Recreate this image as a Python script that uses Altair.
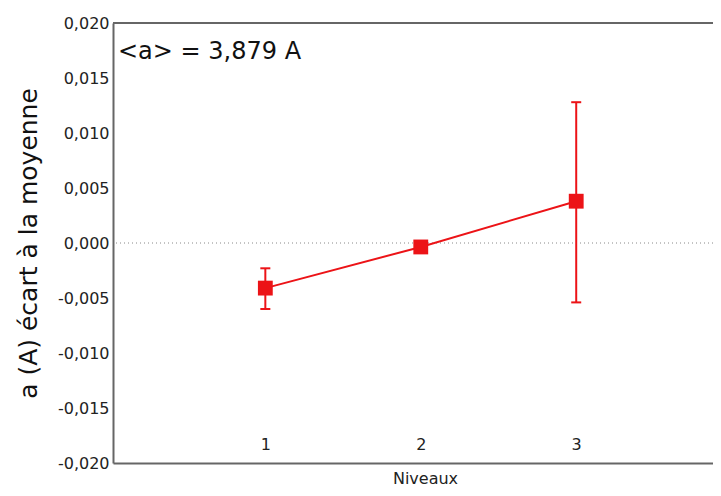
import altair as alt
import pandas as pd

# Data
niveaux = [1, 2, 3]
ecart = [-0.0041, -0.00036, 0.0038]
err_bas = [-0.0060, -0.00056, -0.0054]
err_haut = [-0.0023, -0.00016, 0.0128]
y_ticks = [-0.020, -0.015, -0.010, -0.005, 0.000, 0.005, 0.010, 0.015, 0.020]
annotation = "<a> = 3,879 A"
x_title = "Niveaux"
y_title = "a (A) écart à la moyenne"

df = pd.DataFrame({"niveau": niveaux, "ecart": ecart, "bas": err_bas, "haut": err_haut})

RED = "#ec1317"
AX = "#666666"
FONT = "DejaVu Sans"
W, H = 600, 440

xs = alt.Scale(domain=[0.02, 3.88], nice=False, zero=False)
ys = alt.Scale(domain=[-0.02, 0.02], nice=False, zero=False)

x_axis = alt.Axis(values=niveaux, title=x_title, ticks=False, grid=False,
                  labelPadding=-27, labelFontSize=16, labelColor="#222",
                  labelFont=FONT, domainColor=AX, domainWidth=2,
                  titleFont=FONT, titleFontSize=16, titleFontWeight="normal",
                  titleColor="#222", titleX=312, titleY=15, titleAlign="center",
                  titleBaseline="middle", format="d")
y_axis = alt.Axis(values=y_ticks, title=y_title, ticks=False, grid=False,
                  labelPadding=4, labelFontSize=16, labelColor="#222", labelFont=FONT,
                  labelExpr="replace(replace(format(datum.value, '.3f'), '.', ','), '\u2212', '-')",
                  domainColor=AX, domainWidth=2,
                  titleFont=FONT, titleFontSize=25, titleFontWeight="normal",
                  titleColor="#111", titleX=-85, titleY=H / 2, titleAngle=270,
                  titleAlign="center", titleBaseline="middle")

base = alt.Chart(df)

zero = alt.Chart().mark_rule(strokeDash=[1, 3], color="#888", strokeWidth=1).encode(
    y=alt.datum(0, scale=ys))

line = base.mark_line(color=RED, strokeWidth=2).encode(
    x=alt.X("niveau:Q", scale=xs, axis=x_axis),
    y=alt.Y("ecart:Q", scale=ys, axis=y_axis))

err = base.mark_rule(color=RED, strokeWidth=2).encode(
    x="niveau:Q", y="bas:Q", y2="haut:Q")
cap_lo = base.mark_tick(color=RED, thickness=2, size=10, orient="horizontal", opacity=1).encode(
    x="niveau:Q", y="bas:Q")
cap_hi = base.mark_tick(color=RED, thickness=2, size=10, orient="horizontal", opacity=1).encode(
    x="niveau:Q", y="haut:Q")
pts = base.mark_square(size=220, color=RED, opacity=1).encode(
    x="niveau:Q", y="ecart:Q")

label = alt.Chart().mark_text(text=annotation, fontSize=24, font=FONT, color="#111",
                              align="left", baseline="middle").encode(
    x=alt.value(5), y=alt.value(29))

top = alt.Chart().mark_rule(color=AX, strokeWidth=2).encode(
    x=alt.value(0), x2=alt.value(W), y=alt.value(0))

chart = alt.layer(zero, line, err, cap_lo, cap_hi, pts, label, top).properties(
    width=W, height=H,
    autosize=alt.AutoSizeParams(type="none"),
    padding={"left": 105, "top": 15, "right": 0, "bottom": 25},
    background="white",
).configure_view(stroke="transparent")

chart.save("out.html", embed_options={"renderer": "svg", "actions": False})
